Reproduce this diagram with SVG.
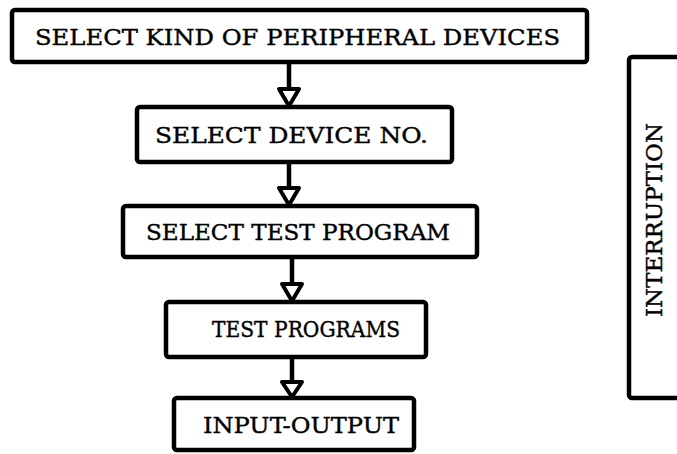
<svg xmlns="http://www.w3.org/2000/svg" width="677" height="454" viewBox="0 0 677 454">
<style>
.box{fill:#fff;stroke:#000;stroke-width:4.5;stroke-linejoin:round}
.t{font-family:"DejaVu Serif","Liberation Serif",serif;font-size:23px;fill:#000;stroke:#000;stroke-width:0.4}
.ln{stroke:#000;stroke-width:4.5;fill:none}
.ah{fill:#fff;stroke:#000;stroke-width:4;stroke-linejoin:round}
</style>
<rect width="677" height="454" fill="#fff"/>
<g id="connectors">
<line class="ln" x1="289" y1="62" x2="289" y2="89"/>
<polygon class="ah" points="279,89 299,89 289,106"/>
<line class="ln" x1="289" y1="162" x2="289" y2="188"/>
<polygon class="ah" points="279,188 299,188 289,205"/>
<line class="ln" x1="292" y1="257" x2="292" y2="284"/>
<polygon class="ah" points="282,284 302,284 292,301"/>
<line class="ln" x1="292" y1="357" x2="292" y2="382"/>
<polygon class="ah" points="282,382 302,382 292,397"/>
</g>
<g id="n1">
<rect class="box" x="12" y="10" width="575" height="52" rx="3"/>
<text class="t" x="35" y="45" textLength="525" lengthAdjust="spacingAndGlyphs">SELECT KIND OF PERIPHERAL DEVICES</text>
</g>
<g id="n2">
<rect class="box" x="137" y="107" width="315" height="55" rx="3"/>
<text class="t" x="155" y="143" textLength="273" lengthAdjust="spacingAndGlyphs">SELECT DEVICE NO.</text>
</g>
<g id="n3">
<rect class="box" x="123" y="206" width="354" height="51" rx="3"/>
<text class="t" x="146" y="240" textLength="304" lengthAdjust="spacingAndGlyphs">SELECT TEST PROGRAM</text>
</g>
<g id="n4">
<rect class="box" x="166" y="302" width="260" height="55" rx="3"/>
<text class="t" x="212" y="337" textLength="188" lengthAdjust="spacingAndGlyphs">TEST PROGRAMS</text>
</g>
<g id="n5">
<rect class="box" x="174" y="398" width="240" height="52" rx="3"/>
<text class="t" x="203" y="433" textLength="196" lengthAdjust="spacingAndGlyphs">INPUT-OUTPUT</text>
</g>
<g id="n6">
<rect class="box" x="629" y="57" width="70" height="341" rx="3"/>
<text class="t" transform="translate(662,220) rotate(-90)" x="0" y="0" text-anchor="middle" textLength="194" lengthAdjust="spacingAndGlyphs">INTERRUPTION</text>
</g>
</svg>
